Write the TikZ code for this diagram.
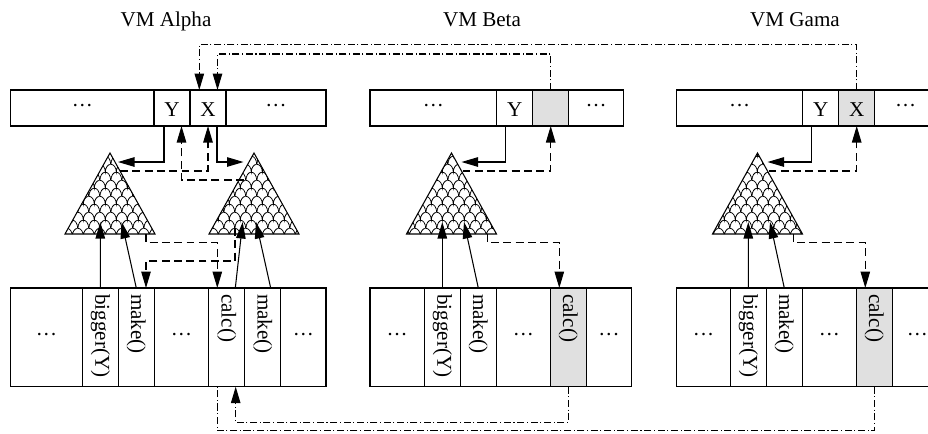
\documentclass[tikz,border=0pt]{standalone}
\usepackage{fontspec}
\setmainfont{Liberation Serif}
\usetikzlibrary{arrows.meta, positioning, calc, patterns}

% fish scales for the trees
\pgfdeclarepatternformonly{fishscales}{\pgfpointorigin}{\pgfqpoint{6.4pt}{9pt}}{\pgfqpoint{6.4pt}{9pt}}{%
  \pgfsetlinewidth{0.45pt}%
  \pgfpathmoveto{\pgfpointorigin}%
  \pgfpatharc{180}{0}{3.2pt and 4.5pt}%
  \pgfpathmoveto{\pgfqpoint{0pt}{9pt}}%
  \pgfpatharc{90}{0}{3.2pt and 4.5pt}%
  \pgfpatharc{180}{90}{3.2pt and 4.5pt}%
  \pgfusepath{stroke}%
}

\begin{document}
\begin{tikzpicture}[x=0.2mm, y=-0.2mm, font=\fontsize{12}{14}\selectfont,
  cell/.style={draw, line width=0.6pt, inner sep=0pt, outer sep=0pt, minimum height=7.2mm},
  col/.style={draw, line width=0.6pt, inner sep=0pt, outer sep=0pt, minimum height=19.74mm},
  wd/.style={minimum width=#1*0.2mm},
  letter/.style={text height=10pt},
  hit/.style={fill=black!12},
  vtext/.style={rotate=-90, anchor=west},
  tree/.style={draw, line width=0.6pt, pattern=fishscales},
  link/.style={line width=0.6pt, -{Triangle[length=3.3mm, width=1.9mm]}},
  dlink/.style={link, dash pattern=on 4.5pt off 2.5pt},
  ddline/.style={line width=0.6pt, dash pattern=on 4pt off 1.5pt on 0.6pt off 1.5pt},
  ddlink/.style={ddline, -{Triangle[length=3.3mm, width=1.9mm]}}]
  \useasboundingbox (0,0) rectangle (928,433);

  % Titles
  \node[anchor=base] (alpha) at (166,26) {VM Alpha};
  \node[anchor=base] (beta) at (482,26) {VM Beta};
  \node[anchor=base] (gama) at (795,26) {VM Gama};

  % Heaps
  \node[cell, wd=143.3, anchor=north west] (a1) at (10.7,90) {···};
  \node[cell, letter, wd=36, right=0pt of a1] (ay) {Y};
  \node[cell, letter, wd=36, right=0pt of ay] (ax) {X};
  \node[cell, wd=100, right=0pt of ax] (a2) {···};

  \node[cell, wd=126.7, anchor=north west] (b1) at (370,90) {···};
  \node[cell, letter, wd=36, right=0pt of b1] (by) {Y};
  \node[cell, hit, wd=36, right=0pt of by] (bx) {};
  \node[cell, wd=55, right=0pt of bx] (b2) {···};

  \node[cell, wd=126, anchor=north west] (g1) at (676.7,90) {···};
  \node[cell, letter, wd=36, right=0pt of g1] (gy) {Y};
  \node[cell, letter, hit, wd=36, right=0pt of gy] (gx) {X};
  \node[cell, wd=62, right=0pt of gx] (g2) {···};

  % Method areas
  \node[col, wd=71.6, anchor=north west] (am1) at (10.7,288) {···};
  \node[col, wd=36, right=0pt of am1] (abig) {};
  \node[col, wd=36, right=0pt of abig] (amake) {};
  \node[col, wd=54.4, right=0pt of amake] (am2) {···};
  \node[col, wd=36, right=0pt of am2] (acalc) {};
  \node[col, wd=36, right=0pt of acalc] (amake2) {};
  \node[col, wd=45.3, right=0pt of amake2] (am3) {···};

  \node[col, wd=54.3, anchor=north west] (bm1) at (370,288) {···};
  \node[col, wd=36, right=0pt of bm1] (bbig) {};
  \node[col, wd=36, right=0pt of bbig] (bmake) {};
  \node[col, wd=54, right=0pt of bmake] (bm2) {···};
  \node[col, hit, wd=36, right=0pt of bm2] (bcalc) {};
  \node[col, wd=45.4, right=0pt of bcalc] (bm3) {···};

  \node[col, wd=53.6, anchor=north west] (gm1) at (676.7,288) {···};
  \node[col, wd=36, right=0pt of gm1] (gbig) {};
  \node[col, wd=36, right=0pt of gbig] (gmake) {};
  \node[col, wd=54, right=0pt of gmake] (gm2) {···};
  \node[col, hit, wd=36, right=0pt of gm2] (gcalc) {};
  \node[col, wd=50, right=0pt of gcalc] (gm3) {···};

  \foreach \n/\t in {abig/bigger(Y), amake/make(), acalc/calc(), amake2/make(),
                     bbig/bigger(Y), bmake/make(), bcalc/calc(),
                     gbig/bigger(Y), gmake/make(), gcalc/calc()}
    \node[vtext] (\n t) at (\n.north) {\t};

  % Trees
  \coordinate (atree1) at (110,153);
  \coordinate (atree2) at (254,153);
  \coordinate (btree) at (451.5,153);
  \coordinate (gtree) at (757.5,153);
  \foreach \t in {atree1, atree2, btree, gtree}
    \draw[tree] (\t) -- ++(-45,81) -- ++(90,0) -- cycle;

  % VM Alpha links
  \draw[link] ($(ay.south)+(-8,0)$) |- ($(atree1)+(8,9)$);
  \draw[link] ($(ax.south)+(9,0)$) |- ($(atree2)+(-10.5,9)$);
  \draw[dlink] ($(atree1)+(10,18)$) -| (ax.south);
  \draw[dlink] ($(atree2)+(-10,27)$) -| ($(ay.south)+(9.5,0)$);

  \draw[link] (abig.north) -- ($(atree1)+(-9.7,69)$);
  \draw[link] (amake.north) -- ($(atree1)+(11.7,69)$);
  \draw[link] ($(acalc.north)+(8.6,0)$) -- ($(atree2)+(-11.3,69)$);
  \draw[link] ($(amake2.north)+(8,0)$) -- ($(atree2)+(2,69)$);
  \draw[dlink] ($(atree1)+(36,81)$) -- ++(0,8.7) -| ($(acalc.north)+(-9.4,0)$);
  \draw[dlink] ($(atree2)+(-19,75)$) -- ++(0,33) -| ($(amake.north)+(9.7,0)$);

  % VM Beta and VM Gama links
  \foreach \vm in {b,g} {
    \draw[link] ($(\vm y.south)+(-9,0)$) |- ($(\vm tree)+(10,9)$);
    \draw[dlink] ($(\vm tree)+(11,18)$) -| (\vm x.south);
    \draw[link] (\vm big.north) -- ($(\vm tree)+(-9.2,69)$);
    \draw[link] (\vm make.north) -- ($(\vm tree)+(12.5,69)$);
    \draw[dlink] ($(\vm tree)+(36,81)$) -- ++(0,8.7) -| ($(\vm calc.north)+(-9,0)$);
  }

  % Remote links
  \draw[ddlink] (bx.north) -- ++(0,-36) -| ($(ax.north)+(9.5,0)$);
  \draw[ddlink] (gx.north) -- ++(0,-45.5) -| ($(ax.north)+(-8.7,0)$);
  \draw[ddlink] (bcalc.south) -- ++(0,36) -| ($(acalc.south)+(9,0)$);
  \draw[ddline] (gcalc.south) -- ++(0,44) -| ($(acalc.south)+(-9.4,0)$);
\end{tikzpicture}
\end{document}
